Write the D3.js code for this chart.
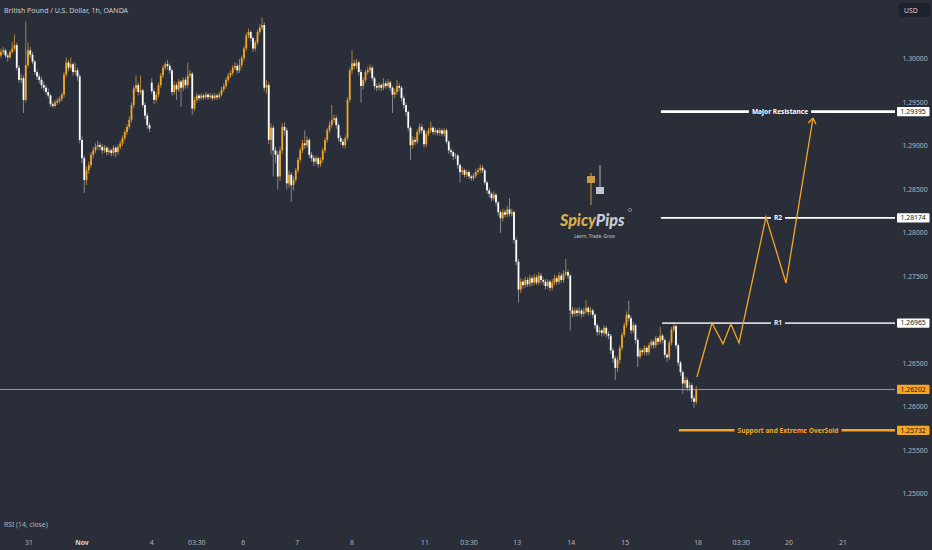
<!DOCTYPE html>
<html><head><meta charset="utf-8">
<script src="https://cdn.jsdelivr.net/npm/d3@7"></script>
<style>html,body{margin:0;padding:0;background:#2a2e39;overflow:hidden}svg{display:block}</style>
</head><body><svg id="c" width="932" height="550"></svg>
<script>
const opens=[
1.3004,1.3008,1.3010,1.3004,1.3002,1.3008,1.3012,1.3016,1.2990,1.2976,
1.2978,1.2953,1.2993,1.3010,1.3005,1.2997,1.2985,1.2980,1.2976,1.2970,
1.2967,1.2962,1.2958,1.2948,1.2946,1.2950,1.2952,1.2954,1.2959,1.2982,
1.2996,1.2990,1.2994,1.2985,1.2987,1.2980,1.2907,1.2886,1.2861,1.2872,
1.2878,1.2890,1.2895,1.2899,1.2901,1.2899,1.2895,1.2898,1.2893,1.2895,
1.2892,1.2898,1.2893,1.2899,1.2903,1.2909,1.2916,1.2922,1.2930,1.2947,
1.2966,1.2970,1.2962,1.2964,1.2947,1.2935,1.2924,1.2973,1.2963,1.2953,
1.2959,1.2970,1.2981,1.2990,1.2994,1.2992,1.2987,1.2962,1.2970,1.2965,
1.2974,1.2967,1.2976,1.2970,1.2981,1.2983,1.2943,1.2953,1.2958,1.2955,
1.2958,1.2956,1.2959,1.2956,1.2958,1.2955,1.2958,1.2956,1.2959,1.2965,
1.2969,1.2976,1.2981,1.2984,1.2990,1.2992,1.2987,1.2993,1.3001,1.3012,
1.3027,1.3031,1.3024,1.3012,1.3019,1.3031,1.3036,1.3039,1.2967,1.2970,
1.2907,1.2921,1.2895,1.2890,1.2865,1.2895,1.2922,1.2918,1.2857,1.2867,
1.2855,1.2861,1.2872,1.2884,1.2895,1.2903,1.2901,1.2907,1.2890,1.2886,
1.2882,1.2886,1.2879,1.2884,1.2895,1.2907,1.2918,1.2924,1.2930,1.2932,
1.2924,1.2909,1.2905,1.2901,1.2909,1.2953,1.2987,1.2995,1.2992,1.2996,
1.2985,1.2969,1.2976,1.2985,1.2987,1.2990,1.2978,1.2969,1.2967,1.2970,
1.2967,1.2972,1.2969,1.2973,1.2967,1.2959,1.2962,1.2969,1.2967,1.2955,
1.2947,1.2939,1.2921,1.2901,1.2907,1.2905,1.2916,1.2922,1.2918,1.2902,
1.2914,1.2918,1.2921,1.2916,1.2918,1.2915,1.2918,1.2914,1.2918,1.2905,
1.2895,1.2893,1.2888,1.2889,1.2878,1.2870,1.2872,1.2867,1.2870,1.2865,
1.2863,1.2866,1.2870,1.2872,1.2875,1.2872,1.2858,1.2849,1.2845,1.2840,
1.2844,1.2835,1.2824,1.2817,1.2824,1.2821,1.2827,1.2822,1.2824,1.2792,
1.2767,1.2735,1.2744,1.2740,1.2746,1.2741,1.2748,1.2743,1.2749,1.2743,
1.2751,1.2746,1.2744,1.2739,1.2744,1.2737,1.2743,1.2748,1.2744,1.2751,
1.2746,1.2753,1.2755,1.2751,1.2711,1.2707,1.2711,1.2708,1.2711,1.2707,
1.2710,1.2714,1.2709,1.2711,1.2706,1.2694,1.2686,1.2688,1.2685,1.2691,
1.2684,1.2682,1.2665,1.2656,1.2645,1.2654,1.2668,1.2683,1.2694,1.2706,
1.2702,1.2688,1.2694,1.2677,1.2658,1.2665,1.2663,1.2668,1.2663,1.2671,
1.2675,1.2671,1.2679,1.2675,1.2682,1.2677,1.2660,1.2657,1.2674,1.2689,
1.2693,1.2671,1.2651,1.2640,1.2627,1.2631,1.2622,1.2625,1.2610,1.2606];
const highs=[
1.3012,1.3014,1.3012,1.3007,1.3010,1.3020,1.3028,1.3019,1.2993,1.2983,
1.2981,1.3043,1.3019,1.3014,1.3008,1.2999,1.2988,1.2983,1.2979,1.2974,
1.2970,1.2966,1.2960,1.2951,1.2953,1.2955,1.2957,1.2962,1.2985,1.3002,
1.2999,1.3002,1.2996,1.2996,1.2990,1.2983,1.2911,1.2889,1.2876,1.2882,
1.2893,1.2899,1.2903,1.2906,1.2904,1.2902,1.2901,1.2900,1.2898,1.2897,
1.2901,1.2900,1.2902,1.2906,1.2912,1.2919,1.2925,1.2934,1.2950,1.2969,
1.2981,1.2973,1.2981,1.2966,1.2950,1.2938,1.2927,1.2978,1.2966,1.2962,
1.2973,1.2984,1.2993,1.2997,1.2999,1.2995,1.2989,1.2974,1.2973,1.2977,
1.2976,1.2979,1.2979,1.2996,1.2987,1.2985,1.2956,1.2961,1.2960,1.2961,
1.2960,1.2962,1.2961,1.2961,1.2960,1.2961,1.2960,1.2962,1.2968,1.2972,
1.2979,1.2984,1.2987,1.2993,1.2996,1.2995,1.3000,1.3004,1.3015,1.3030,
1.3035,1.3033,1.3026,1.3022,1.3034,1.3040,1.3048,1.3042,1.2976,1.2973,
1.2926,1.2924,1.2899,1.2894,1.2899,1.2926,1.2927,1.2921,1.2872,1.2870,
1.2865,1.2875,1.2887,1.2898,1.2907,1.2918,1.2911,1.2909,1.2893,1.2889,
1.2889,1.2888,1.2887,1.2898,1.2910,1.2921,1.2928,1.2947,1.2936,1.2935,
1.2927,1.2912,1.2908,1.2912,1.2956,1.2990,1.3010,1.2999,1.3000,1.2998,
1.2988,1.2979,1.2988,1.2991,1.2994,1.2992,1.2980,1.2972,1.2973,1.2972,
1.2978,1.2975,1.2977,1.2975,1.2969,1.2966,1.2976,1.2972,1.2969,1.2958,
1.2950,1.2941,1.2923,1.2911,1.2910,1.2919,1.2926,1.2925,1.2920,1.2917,
1.2921,1.2928,1.2923,1.2921,1.2920,1.2921,1.2920,1.2921,1.2920,1.2907,
1.2898,1.2895,1.2892,1.2891,1.2880,1.2876,1.2874,1.2873,1.2872,1.2867,
1.2869,1.2873,1.2875,1.2879,1.2878,1.2874,1.2860,1.2852,1.2847,1.2848,
1.2846,1.2837,1.2826,1.2828,1.2827,1.2831,1.2840,1.2828,1.2826,1.2795,
1.2770,1.2748,1.2747,1.2750,1.2749,1.2752,1.2751,1.2753,1.2752,1.2755,
1.2754,1.2749,1.2747,1.2747,1.2746,1.2747,1.2752,1.2751,1.2755,1.2754,
1.2757,1.2770,1.2758,1.2753,1.2715,1.2714,1.2714,1.2715,1.2713,1.2714,
1.2723,1.2716,1.2715,1.2713,1.2708,1.2696,1.2692,1.2690,1.2694,1.2693,
1.2687,1.2684,1.2668,1.2659,1.2658,1.2671,1.2686,1.2697,1.2710,1.2722,
1.2705,1.2698,1.2696,1.2679,1.2668,1.2667,1.2671,1.2670,1.2674,1.2678,
1.2677,1.2682,1.2681,1.2692,1.2684,1.2679,1.2662,1.2677,1.2692,1.2698,
1.2695,1.2673,1.2653,1.2642,1.2635,1.2634,1.2629,1.2627,1.2613,1.2624];
const lows=[
1.3001,1.3005,1.3001,1.2997,1.3000,1.3006,1.3009,1.2987,1.2973,1.2972,
1.2938,1.2950,1.2990,1.3001,1.2994,1.2982,1.2976,1.2972,1.2966,1.2963,
1.2959,1.2955,1.2945,1.2944,1.2944,1.2947,1.2949,1.2951,1.2956,1.2979,
1.2986,1.2987,1.2981,1.2982,1.2975,1.2903,1.2880,1.2846,1.2855,1.2868,
1.2875,1.2886,1.2892,1.2896,1.2895,1.2891,1.2892,1.2889,1.2890,1.2888,
1.2889,1.2887,1.2890,1.2896,1.2900,1.2906,1.2913,1.2919,1.2927,1.2944,
1.2962,1.2958,1.2959,1.2944,1.2931,1.2920,1.2916,1.2960,1.2948,1.2950,
1.2956,1.2967,1.2978,1.2987,1.2988,1.2983,1.2958,1.2959,1.2953,1.2962,
1.2945,1.2963,1.2966,1.2967,1.2978,1.2936,1.2940,1.2950,1.2952,1.2953,
1.2953,1.2954,1.2953,1.2954,1.2952,1.2953,1.2953,1.2954,1.2957,1.2962,
1.2966,1.2973,1.2978,1.2981,1.2987,1.2983,1.2984,1.2990,1.2998,1.3009,
1.3024,1.3020,1.3008,1.3009,1.3016,1.3028,1.3033,1.2963,1.2960,1.2902,
1.2890,1.2865,1.2880,1.2850,1.2860,1.2891,1.2912,1.2850,1.2852,1.2836,
1.2849,1.2858,1.2869,1.2881,1.2892,1.2897,1.2898,1.2886,1.2882,1.2877,
1.2879,1.2875,1.2876,1.2881,1.2892,1.2904,1.2915,1.2921,1.2927,1.2920,
1.2905,1.2901,1.2898,1.2897,1.2906,1.2950,1.2983,1.2988,1.2989,1.2981,
1.2950,1.2965,1.2973,1.2982,1.2984,1.2975,1.2965,1.2963,1.2964,1.2963,
1.2964,1.2966,1.2966,1.2963,1.2938,1.2955,1.2959,1.2963,1.2951,1.2943,
1.2934,1.2917,1.2884,1.2897,1.2901,1.2902,1.2913,1.2914,1.2898,1.2899,
1.2911,1.2915,1.2913,1.2913,1.2912,1.2912,1.2911,1.2911,1.2902,1.2891,
1.2889,1.2884,1.2885,1.2874,1.2858,1.2867,1.2864,1.2864,1.2862,1.2860,
1.2860,1.2863,1.2867,1.2869,1.2869,1.2855,1.2845,1.2841,1.2836,1.2837,
1.2831,1.2820,1.2800,1.2813,1.2818,1.2818,1.2819,1.2819,1.2788,1.2763,
1.2720,1.2731,1.2736,1.2737,1.2738,1.2738,1.2739,1.2740,1.2740,1.2740,
1.2742,1.2740,1.2735,1.2736,1.2733,1.2734,1.2740,1.2740,1.2741,1.2743,
1.2743,1.2750,1.2747,1.2688,1.2703,1.2704,1.2704,1.2705,1.2703,1.2704,
1.2707,1.2705,1.2706,1.2702,1.2690,1.2682,1.2683,1.2681,1.2682,1.2680,
1.2678,1.2661,1.2651,1.2631,1.2640,1.2650,1.2665,1.2680,1.2691,1.2698,
1.2684,1.2685,1.2673,1.2646,1.2655,1.2659,1.2660,1.2659,1.2660,1.2668,
1.2667,1.2668,1.2671,1.2672,1.2673,1.2656,1.2652,1.2654,1.2671,1.2686,
1.2667,1.2647,1.2636,1.2615,1.2622,1.2618,1.2618,1.2606,1.2599,1.2603];
const closes=[
1.3008,1.3010,1.3004,1.3002,1.3008,1.3012,1.3016,1.2990,1.2976,1.2978,
1.2953,1.2993,1.3010,1.3005,1.2997,1.2985,1.2980,1.2976,1.2970,1.2967,
1.2962,1.2958,1.2948,1.2946,1.2950,1.2952,1.2954,1.2959,1.2982,1.2996,
1.2990,1.2994,1.2985,1.2987,1.2980,1.2907,1.2886,1.2861,1.2872,1.2878,
1.2890,1.2895,1.2899,1.2901,1.2899,1.2895,1.2898,1.2893,1.2895,1.2892,
1.2898,1.2893,1.2899,1.2903,1.2909,1.2916,1.2922,1.2930,1.2947,1.2966,
1.2970,1.2962,1.2964,1.2947,1.2935,1.2924,1.2920,1.2963,1.2953,1.2959,
1.2970,1.2981,1.2990,1.2994,1.2992,1.2987,1.2962,1.2970,1.2965,1.2974,
1.2967,1.2976,1.2970,1.2981,1.2983,1.2943,1.2953,1.2958,1.2955,1.2958,
1.2956,1.2959,1.2956,1.2958,1.2955,1.2958,1.2956,1.2959,1.2965,1.2969,
1.2976,1.2981,1.2984,1.2990,1.2992,1.2987,1.2993,1.3001,1.3012,1.3027,
1.3031,1.3024,1.3012,1.3019,1.3031,1.3036,1.3039,1.2967,1.2970,1.2907,
1.2921,1.2895,1.2890,1.2865,1.2895,1.2922,1.2918,1.2857,1.2867,1.2855,
1.2861,1.2872,1.2884,1.2895,1.2903,1.2901,1.2907,1.2890,1.2886,1.2882,
1.2886,1.2879,1.2884,1.2895,1.2907,1.2918,1.2924,1.2930,1.2932,1.2924,
1.2909,1.2905,1.2901,1.2909,1.2953,1.2987,1.2995,1.2992,1.2996,1.2985,
1.2969,1.2976,1.2985,1.2987,1.2990,1.2978,1.2969,1.2967,1.2970,1.2967,
1.2972,1.2969,1.2973,1.2967,1.2959,1.2962,1.2969,1.2967,1.2955,1.2947,
1.2939,1.2921,1.2901,1.2907,1.2905,1.2916,1.2922,1.2918,1.2902,1.2914,
1.2918,1.2921,1.2916,1.2918,1.2915,1.2918,1.2914,1.2918,1.2905,1.2895,
1.2893,1.2888,1.2889,1.2878,1.2870,1.2872,1.2867,1.2870,1.2865,1.2863,
1.2866,1.2870,1.2872,1.2875,1.2872,1.2858,1.2849,1.2845,1.2840,1.2844,
1.2835,1.2824,1.2817,1.2824,1.2821,1.2827,1.2822,1.2824,1.2792,1.2767,
1.2735,1.2744,1.2740,1.2746,1.2741,1.2748,1.2743,1.2749,1.2743,1.2751,
1.2746,1.2744,1.2739,1.2744,1.2737,1.2743,1.2748,1.2744,1.2751,1.2746,
1.2753,1.2755,1.2751,1.2711,1.2707,1.2711,1.2708,1.2711,1.2707,1.2710,
1.2714,1.2709,1.2711,1.2706,1.2694,1.2686,1.2688,1.2685,1.2691,1.2684,
1.2682,1.2665,1.2656,1.2645,1.2654,1.2668,1.2683,1.2694,1.2706,1.2702,
1.2688,1.2694,1.2677,1.2658,1.2665,1.2663,1.2668,1.2663,1.2671,1.2675,
1.2671,1.2679,1.2675,1.2682,1.2677,1.2660,1.2657,1.2674,1.2689,1.2693,
1.2671,1.2651,1.2640,1.2627,1.2631,1.2622,1.2625,1.2610,1.2606,1.2620];

const priceTicks=[1.25,1.255,1.26,1.265,1.27,1.275,1.28,1.285,1.29,1.295,1.30];
const timeTickLabels=["31","Nov","4","03:30","6","7","8","11","03:30","13","14","15","18","03:30","20","21"];
const timeTickIdx=[12.4,36,67,87,107.6,131.6,156,188.4,208,229.4,253.4,277.4,309.8,329,350.2,374.2];
const levelNames=["Major Resistance","R2","R1","Support and Extreme OverSold"];
const levelValues=[1.29395,1.28174,1.26965,1.25732];
const levelStartIdx=[293.3,293.3,293.8,301.3];
const lastPrice=1.26202;
const projIdx=[309.3,316.0,320.9,324.4,328.0,340.0,348.9,360.9];
const projPrice=[1.26345,1.26966,1.26724,1.26954,1.26736,1.28184,1.27425,1.29322];

const W=932,H=550,PW=895;
const svg=d3.select("#c");
svg.append("rect").attr("width",W).attr("height",H).attr("fill","#2a2e39");
const x=d3.scaleLinear().domain([0,309]).range([1,696.25]);
const y=d3.scaleLinear().domain([1.25,1.30]).range([494,59]);
const ORANGE="#f5a623";
const FONT="'Noto Sans', 'DejaVu Sans', sans-serif";

// logo watermark
const logo=svg.append("g");
logo.append("line").attr("x1",591).attr("x2",591).attr("y1",173).attr("y2",205).attr("stroke","#b98a3a").attr("stroke-width",1.2);
logo.append("rect").attr("x",587).attr("y",176).attr("width",8).attr("height",7).attr("fill","#c99a45");
logo.append("line").attr("x1",600).attr("x2",600).attr("y1",165).attr("y2",189).attr("stroke","#9a9da5").attr("stroke-width",1.2);
logo.append("rect").attr("x",596).attr("y",187).attr("width",8).attr("height",7).attr("fill","#c3c6cd");
const lt=logo.append("text").attr("x",560).attr("y",226).attr("font-family","Lato, 'Noto Sans', sans-serif").attr("font-size",16).attr("font-weight",900).attr("font-style","italic");
lt.append("tspan").attr("fill","#d9ae4e").text("Spicy");
lt.append("tspan").attr("fill","#c9ccd4").text("Pips");
logo.append("circle").attr("cx",630).attr("cy",210).attr("r",1.6).attr("fill","none").attr("stroke","#c9ccd4").attr("stroke-width",0.5);
logo.append("text").attr("x",594.5).attr("y",238).attr("text-anchor","middle").attr("font-family",FONT).attr("font-size",4.6).attr("fill","#c0c3ca").text("Learn, Trade, Grow");

// current price line
svg.append("line").attr("x1",0).attr("x2",PW).attr("y1",y(lastPrice)).attr("y2",y(lastPrice))
  .attr("stroke","#d8901c").attr("stroke-width",1).attr("shape-rendering","crispEdges");

// candles
const idx=d3.range(closes.length);
const up=i=>closes[i]>=opens[i];
const cg=svg.append("g");
cg.selectAll("line").data(idx).join("line")
  .attr("x1",i=>x(i)).attr("x2",i=>x(i))
  .attr("y1",i=>y(highs[i])).attr("y2",i=>y(lows[i]))
  .attr("stroke",i=>up(i)?"#b8893a":"#8e919b").attr("stroke-width",0.9);
cg.selectAll("rect").data(idx).join("rect")
  .attr("x",i=>x(i)-0.9).attr("width",1.8)
  .attr("y",i=>y(Math.max(opens[i],closes[i])))
  .attr("height",i=>Math.max(0.8,Math.abs(y(opens[i])-y(closes[i]))))
  .attr("fill",i=>up(i)?ORANGE:"#ffffff");

// levels
const lvlColor=["#ffffff","#ffffff","#d1d4dc",ORANGE];
const lvlWidth=[2.6,1.6,1.8,2.6];
const lvlLabelX=[780,778,778,788];
levelNames.forEach((name,k)=>{
  const yy=y(levelValues[k]);
  const t=svg.append("text").attr("x",lvlLabelX[k]).attr("y",yy+2.4).attr("text-anchor","middle")
    .attr("font-family",FONT).attr("font-size",6.6).attr("font-weight",700)
    .attr("fill",k===3?ORANGE:(k===2?"#e6e8ee":"#ffffff")).text(name);
  const w=t.node().getComputedTextLength();
  svg.append("line").attr("x1",x(levelStartIdx[k])).attr("x2",lvlLabelX[k]-w/2-3).attr("y1",yy).attr("y2",yy)
    .attr("stroke",lvlColor[k]).attr("stroke-width",lvlWidth[k]);
  svg.append("line").attr("x1",lvlLabelX[k]+w/2+3).attr("x2",PW).attr("y1",yy).attr("y2",yy)
    .attr("stroke",lvlColor[k]).attr("stroke-width",lvlWidth[k]);
});

// projection
const pts=projIdx.map((v,i)=>[x(v),y(projPrice[i])]);
svg.append("path").attr("d",d3.line()(pts)).attr("fill","none").attr("stroke",ORANGE).attr("stroke-width",1.3).attr("stroke-linejoin","miter");
const tip=pts[pts.length-1],prev=pts[pts.length-2];
const ang=Math.atan2(tip[1]-prev[1],tip[0]-prev[0]);
[-0.6,0.6].forEach(d=>{
  svg.append("line").attr("x1",tip[0]).attr("y1",tip[1])
   .attr("x2",tip[0]-7*Math.cos(ang+d)).attr("y2",tip[1]-7*Math.sin(ang+d))
   .attr("stroke",ORANGE).attr("stroke-width",1.3);
});

// price axis
const boxVals=[...levelValues.slice(0,3),lastPrice,levelValues[3]];
const boxFill=["#ffffff","#ffffff","#ffffff",ORANGE,ORANGE];
const ax=svg.append("g");
const visTicks=priceTicks.filter(t=>boxVals.every(v=>Math.abs(y(t)-y(v))>9));
ax.selectAll("text").data(visTicks).join("text")
  .attr("x",915).attr("y",d=>y(d)+2.4).attr("text-anchor","middle")
  .attr("font-family",FONT).attr("font-size",6.8).attr("fill","#b2b5be").text(d=>d3.format(".5f")(d));
boxVals.forEach((v,k)=>{
  const yy=y(v);
  ax.append("rect").attr("x",897).attr("y",yy-4.6).attr("width",32.5).attr("height",9.2).attr("rx",0.8).attr("fill",boxFill[k]);
  ax.append("text").attr("x",913.2).attr("y",yy+2.4).attr("text-anchor","middle").attr("font-family",FONT)
    .attr("font-size",6.8).attr("fill","#131722").text(d3.format(".5f")(v));
});
ax.append("rect").attr("x",899).attr("y",3).attr("width",31).attr("height",14).attr("rx",1).attr("fill","#1e222d");
ax.append("text").attr("x",904).attr("y",12.6).attr("font-family",FONT).attr("font-size",6.8).attr("fill","#d1d4dc").text("USD");

// time axis
svg.append("g").selectAll("text").data(timeTickLabels).join("text")
  .attr("x",(d,i)=>x(timeTickIdx[i])).attr("y",545).attr("text-anchor","middle")
  .attr("font-family",FONT).attr("font-size",6.8)
  .attr("font-weight",d=>d==="Nov"?700:400)
  .attr("fill",d=>d==="Nov"?"#d1d4dc":"#b2b5be").text(d=>d);

// texts
svg.append("text").attr("x",4).attr("y",12.6).attr("font-family",FONT).attr("font-size",7).attr("fill","#c8cbd2").text("British Pound / U.S. Dollar, 1h, OANDA");
svg.append("text").attr("x",4).attr("y",526.5).attr("font-family",FONT).attr("font-size",6.8).attr("fill","#b2b5be").text("RSI (14, close)");
</script></body></html>
